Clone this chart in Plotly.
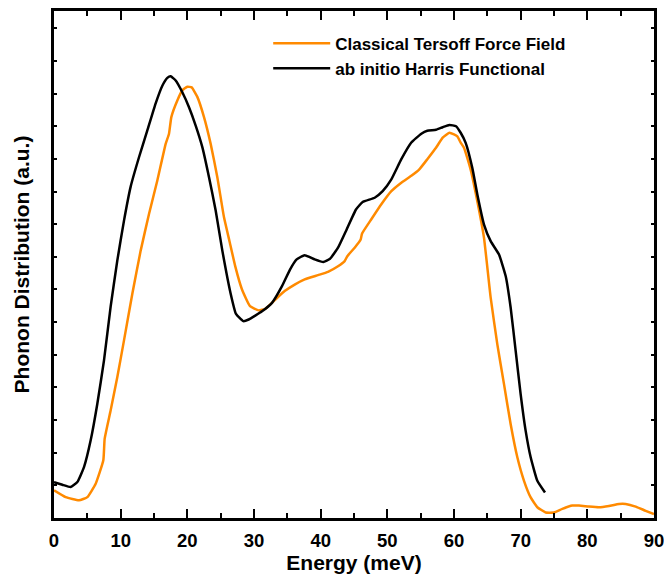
import plotly.graph_objects as go

# ---- data ----
energy_harris = [0, 1.25, 2.5, 3.5, 4.5, 5.5, 6.5, 7.5, 8.5, 9.5, 10.5, 11.5, 12.75, 14, 15.25,
                 16.25, 17, 17.5, 18.25, 19.25, 20.25, 21.25, 22.25, 23.25, 24.25, 25.25, 26.5,
                 27.3, 28.4, 29.2, 31.2, 32.7, 34.2, 35.4, 36.4, 37.6, 39.1, 40.4, 41.4, 42.6,
                 43.9, 45.3, 46.3, 48.1, 49.3, 50.6, 52.1, 53.6, 55.1, 56.0, 57.3, 58.3, 59.3,
                 60.3, 61.0, 61.75, 62.75, 63.5, 64.5, 65.5, 66.75, 67.75, 68.5, 69.25, 70,
                 70.75, 71.5, 72.5, 73.65]
dos_harris = [1.10, 1.02, 0.95, 1.10, 1.56, 2.38, 3.50, 4.83, 6.48, 7.89, 9.11, 10.15, 11.05,
              11.87, 12.70, 13.24, 13.48, 13.53, 13.40, 13.04, 12.58, 12.02, 11.36, 10.44, 9.42,
              8.19, 6.87, 6.25, 6.03, 6.08, 6.33, 6.59, 7.10, 7.61, 7.92, 8.05, 7.92, 7.84, 7.94,
              8.28, 8.84, 9.45, 9.68, 9.81, 10.01, 10.37, 10.99, 11.50, 11.77, 11.86, 11.89,
              11.97, 12.04, 12.00, 11.80, 11.49, 10.72, 9.91, 8.99, 8.48, 8.07, 7.41, 6.44,
              5.12, 3.79, 2.67, 1.86, 1.14, 0.78]

energy_tersoff = [0, 1.75, 3.75, 5, 6.25, 7.4, 7.6, 8.5, 9.5, 10.5, 11.75, 13, 14.25, 15.5,
                  16.75, 17.25, 17.6, 18.5, 19.25, 20, 20.65, 21.5, 22.5, 23.5, 24.5, 25.5,
                  26.3, 27.2, 28.2, 29.4, 30.7, 31.7, 33.2, 34.6, 36.1, 37.6, 39.6, 41.1, 42.6,
                  43.6, 44.0, 45.1, 46.0, 46.2, 47.6, 49.1, 50.6, 52.1, 53.6, 54.8, 56.0, 57.3,
                  58.3, 59.3, 60.0, 60.5, 61.0, 61.5, 62.5, 63.5, 64.5, 65.5, 66.5, 67.5, 68.5,
                  69.5, 70.5, 71.5, 72.5, 73.75, 75, 76.25, 77.75, 78.75, 80.25, 81.75, 83.25,
                  84.75, 85.75, 87.25, 88.75, 90]
dos_tersoff = [0.85, 0.64, 0.54, 0.64, 1.05, 1.77, 2.43, 3.30, 4.32, 5.44, 6.87, 8.19, 9.31,
               10.34, 11.46, 11.77, 12.28, 12.79, 13.10, 13.21, 13.19, 12.90, 12.28, 11.46,
               10.44, 9.21, 8.50, 7.70, 7.00, 6.49, 6.36, 6.41, 6.69, 6.95, 7.15, 7.31, 7.44,
               7.54, 7.71, 7.87, 8.02, 8.28, 8.53, 8.71, 9.15, 9.61, 10.01, 10.27, 10.48, 10.68,
               10.99, 11.34, 11.65, 11.80, 11.75, 11.69, 11.50, 11.34, 10.67, 9.70, 8.58, 6.75,
               5.32, 4.10, 2.87, 1.86, 1.14, 0.63, 0.33, 0.17, 0.17, 0.28, 0.38, 0.38, 0.35,
               0.33, 0.37, 0.43, 0.43, 0.35, 0.22, 0.12]

x_ticks = [0, 10, 20, 30, 40, 50, 60, 70, 80, 90]

FONT = "Liberation Sans, Arial, sans-serif"
ORANGE = "#FF8A00"

fig = go.Figure()
fig.add_trace(go.Scatter(x=energy_tersoff, y=dos_tersoff, mode="lines",
                         name="Classical Tersoff Force Field",
                         line=dict(color=ORANGE, width=2.5, shape="spline", smoothing=0.4)))
fig.add_trace(go.Scatter(x=energy_harris, y=dos_harris, mode="lines",
                         name="ab initio Harris Functional",
                         line=dict(color="black", width=2.5, shape="spline", smoothing=0.4)))

fig.update_layout(
    width=664, height=583,
    margin=dict(l=54, r=10, t=11, b=65, autoexpand=False),
    paper_bgcolor="white", plot_bgcolor="white",
    font=dict(family=FONT, color="black"),
    showlegend=True,
    legend=dict(x=0.357, y=0.971, xanchor="left", yanchor="top",
                bgcolor="rgba(0,0,0,0)", borderwidth=0,
                font=dict(family=FONT, size=17, weight="bold", color="black"),
                itemwidth=57, tracegroupgap=0),
    xaxis=dict(range=[0, 90], tickmode="array", tickvals=x_ticks,
               ticktext=[str(v) for v in x_ticks],
               ticks="inside", ticklen=9, tickwidth=2, tickcolor="black",
               minor=dict(dtick=5, ticks="inside", ticklen=5, tickwidth=2, tickcolor="black"),
               showline=True, linewidth=2.5, linecolor="black", mirror="ticks",
               showgrid=False, zeroline=False, automargin=False,
               tickfont=dict(family=FONT, size=18.5, weight="bold"),
               ticklabelstandoff=4, ticklabeloverflow="allow",
               title=dict(text="Energy (meV)", standoff=3,
                          font=dict(family=FONT, size=21, weight="bold"))),
    yaxis=dict(range=[0, 15.53], dtick=1, tick0=0,
               ticks="inside", ticklen=3, tickwidth=2, tickcolor="black",
               showticklabels=False, automargin=False,
               showline=True, linewidth=2.5, linecolor="black", mirror="ticks",
               showgrid=False, zeroline=False,
               title=dict(text="Phonon Distribution (a.u.)", standoff=16,
                          font=dict(family=FONT, size=21, weight="bold"))),
)

fig.write_html("out.html")
